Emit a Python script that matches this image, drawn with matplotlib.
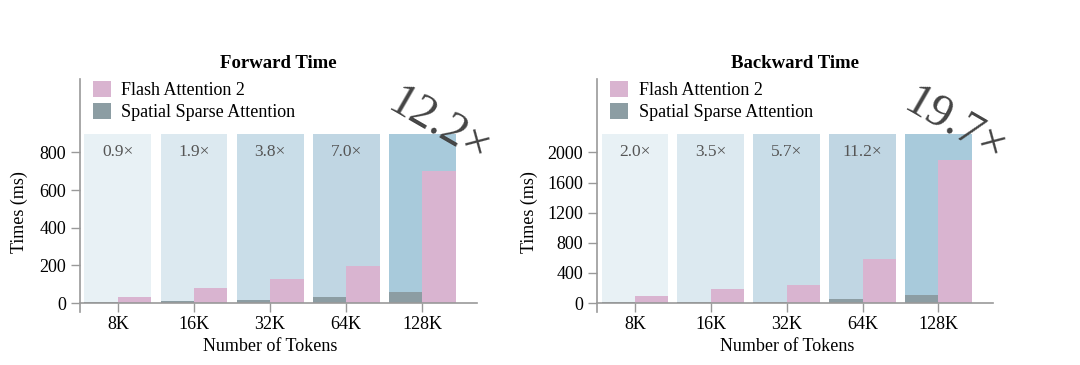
import numpy as np
import matplotlib
matplotlib.use('Agg')
import matplotlib.pyplot as plt

plt.rcParams['font.family'] = ['Liberation Serif', 'DejaVu Serif']

tokens = ['8K', '16K', '32K', '64K', '128K']
fwd_ssa = [8, 9, 15, 30, 60]
fwd_fa2 = [34, 78, 127, 196, 703]
fwd_speedup = ['0.9', '1.9', '3.8', '7.0', '12.2']
bwd_ssa = [15, 14, 9, 57, 110]
bwd_fa2 = [93, 181, 243, 583, 1894]
bwd_speedup = ['2.0', '3.5', '5.7', '11.2', '19.7']

box_colors = ['#e8f1f5', '#dce9f0', '#c9dde8', '#c0d6e3', '#a8cadb']
pink = '#d9b4d0'
grey = '#8c9da3'
spine_c = '#999999'

fig = plt.figure(figsize=(10.8, 3.65), dpi=100)
ax1 = fig.add_axes([0.074, 0.145, 0.3676, 0.6386])
ax2 = fig.add_axes([0.5528, 0.145, 0.3667, 0.6386])


def panel(ax, ssa, fa2, speed, box_h, yticks, title, ylab_x):
    x = np.arange(len(tokens))
    ymin, ymax = -0.053 * box_h, 1.322 * box_h
    ax.bar(x, [box_h] * len(x), width=0.88, color=box_colors, zorder=1)
    ax.bar(x - 0.22, ssa, width=0.44, color=grey, zorder=2,
           label='Spatial Sparse Attention')
    ax.bar(x + 0.22, fa2, width=0.44, color=pink, zorder=2,
           label='Flash Attention 2')
    for i in range(len(x) - 1):
        ax.text(x[i], box_h * 0.89, speed[i] + '×', ha='center', va='center',
                fontsize=12.5, color='#555555', zorder=3)
    # big speedup label for the longest sequence
    ax.text(x[-1] + 0.22, box_h * 1.04, speed[-1] + '×', ha='center',
            va='center', fontsize=34, color='#444444', rotation=-30,
            zorder=4, clip_on=False)
    ax.set_xlim(-0.5, 4.72)
    ax.set_ylim(ymin, ymax)
    ax.set_xticks(x)
    ax.set_xticklabels(tokens)
    ax.set_yticks(yticks)
    for s in ['top', 'right']:
        ax.spines[s].set_visible(False)
    ax.spines['bottom'].set_position(('data', 0))
    for s in ['left', 'bottom']:
        ax.spines[s].set_color(spine_c)
        ax.spines[s].set_linewidth(1.2)
    ax.tick_params(axis='both', length=6.5, width=1, color=spine_c,
                   labelsize=13, direction='out')
    ax.tick_params(axis='x', pad=3)
    ax.set_title(title, fontsize=13.5, fontweight='bold', pad=8)
    ax.set_xlabel('Number of Tokens', fontsize=13)
    ax.xaxis.set_label_coords(0.479, -0.11)
    ax.set_ylabel('Times (ms)', fontsize=13)
    ax.yaxis.set_label_coords(ylab_x, 0.43)
    h, l = ax.get_legend_handles_labels()
    ax.legend(h[::-1], l[::-1], loc='upper left', frameon=False, fontsize=13,
              bbox_to_anchor=(0.0, 1.045), handlelength=1.0, handleheight=1.0,
              handletextpad=0.6, labelspacing=0.2, borderaxespad=0.3)


panel(ax1, fwd_ssa, fwd_fa2, fwd_speedup, 900, [0, 200, 400, 600, 800],
      'Forward Time', -0.131)
panel(ax2, bwd_ssa, bwd_fa2, bwd_speedup, 2250, [0, 400, 800, 1200, 1600, 2000],
      'Backward Time', -0.149)

fig.savefig('out.png', dpi=100)
